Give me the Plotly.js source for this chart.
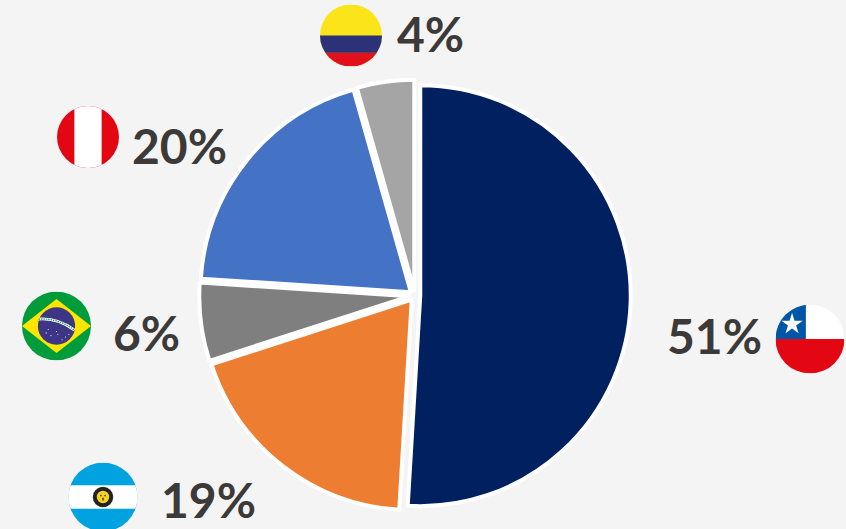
<!DOCTYPE html>
<html>
<head>
<meta charset="utf-8">
<script src="https://cdn.plot.ly/plotly-3.0.1.min.js"></script>
<style>html,body{margin:0;padding:0;background:#F4F4F4;overflow:hidden}#c{width:846px;height:529px}</style>
</head>
<body>
<div id="c"></div>
<script>
const countries = ["Chile", "Argentina", "Brasil", "Perú", "Colombia"];
const shares = [51.0, 19.1, 6.0, 19.6, 4.4];
const sliceColors = ["#002060", "#ED7D31", "#7F7F7F", "#4472C4", "#A5A5A5"];
const W = 846, H = 529;
const labelX = [666, 160, 112, 131, 396];
const labelY = [335.5, 499, 332, 145.5, 33.5];
const flagX = [810, 103, 56.5, 88, 351];
const flagY = [339, 497, 326, 137, 35.5];
const flagR = [34.5, 34.5, 34.5, 31, 31];

const art = {
  Chile: '<rect width="100" height="100" fill="#fff"/><rect y="50" width="100" height="50" fill="#E30613"/><rect width="44" height="50" fill="#0055A6"/><polygon fill="#fff" points="24,12 27.6,23.5 39.5,23.5 29.9,30.4 33.5,41.8 24,34.8 14.5,41.8 18.1,30.4 8.5,23.5 20.4,23.5"/>',
  Argentina: '<rect width="100" height="100" fill="#00A3E0"/><rect y="33" width="100" height="34" fill="#fff"/><circle cx="50" cy="50" r="15" fill="#222"/><circle cx="50" cy="50" r="15" fill="none" stroke="#fff" stroke-width="1" stroke-dasharray="1 1.5"/><circle cx="50" cy="50" r="9" fill="#F6D21E"/><circle cx="47" cy="48" r="1.2" fill="#333"/><circle cx="53" cy="48" r="1.2" fill="#333"/><rect x="49" y="51" width="2" height="4" fill="#333"/>',
  Brasil: '<rect width="100" height="100" fill="#009B3A"/><polygon points="0,50 50,11 100,50 50,89" fill="#FEE600"/><circle cx="50" cy="50" r="27" fill="#3D3585"/><path d="M24,40 Q52,38 76,56" fill="none" stroke="#fff" stroke-width="4"/><path d="M24,40 Q52,38 76,56" fill="none" stroke="#1E9A55" stroke-width="2" stroke-dasharray="2 1.5"/><g fill="#fff"><circle cx="38" cy="55" r=".8"/><circle cx="50" cy="58" r=".8"/><circle cx="52" cy="62" r=".8"/><circle cx="63" cy="66" r=".8"/><circle cx="68" cy="62" r=".8"/><circle cx="42" cy="64" r=".8"/><circle cx="58" cy="70" r=".8"/><circle cx="35" cy="60" r=".8"/></g>',
  "Perú": '<rect width="100" height="100" fill="#E30613"/><rect x="28" width="44" height="100" fill="#fff"/>',
  Colombia: '<rect width="100" height="100" fill="#FBE51A"/><rect y="50" width="100" height="28" fill="#2B3277"/><rect y="78" width="100" height="22" fill="#E1101A"/>'
};

function flagUri(name) {
  const svg = '<svg xmlns="http://www.w3.org/2000/svg" width="200" height="200" viewBox="0 0 100 100"><defs><clipPath id="k"><circle cx="50" cy="50" r="50"/></clipPath></defs><g clip-path="url(#k)">' + art[name] + '</g></svg>';
  return 'data:image/svg+xml;charset=utf-8,' + encodeURIComponent(svg);
}

const cx = 415, cy = 295.5, r = 210.5, pull = 0.025;
const outer = r * (1 + pull);

const trace = {
  type: "pie",
  labels: countries,
  values: shares,
  sort: false,
  direction: "clockwise",
  rotation: 0,
  pull: pull,
  textinfo: "none",
  hoverinfo: "label+percent",
  marker: { colors: sliceColors, line: { color: "#FFFFFF", width: 4 } },
  domain: { x: [(cx - outer) / W, (cx + outer) / W], y: [1 - (cy + outer) / H, 1 - (cy - outer) / H] }
};

const layout = {
  width: W, height: H,
  margin: { l: 0, r: 0, t: 0, b: 0 },
  paper_bgcolor: "#F4F4F4",
  plot_bgcolor: "#F4F4F4",
  showlegend: false,
  annotations: countries.map((c, i) => ({
    xref: "paper", yref: "paper",
    x: labelX[i] / W, y: 1 - labelY[i] / H,
    xanchor: "left", yanchor: "middle",
    text: "<b>" + Math.round(shares[i]) + "%</b>",
    showarrow: false, borderpad: 0,
    font: { family: "Lato, 'Open Sans', sans-serif", size: 48, color: "#3B3A38" }
  })),
  images: countries.map((c, i) => ({
    source: flagUri(c),
    xref: "paper", yref: "paper",
    x: flagX[i] / W, y: 1 - flagY[i] / H,
    sizex: 2 * flagR[i] / W, sizey: 2 * flagR[i] / H,
    xanchor: "center", yanchor: "middle",
    sizing: "stretch", layer: "above"
  }))
};

Plotly.newPlot("c", [trace], layout, { displayModeBar: false, staticPlot: true });
</script>
</body>
</html>
